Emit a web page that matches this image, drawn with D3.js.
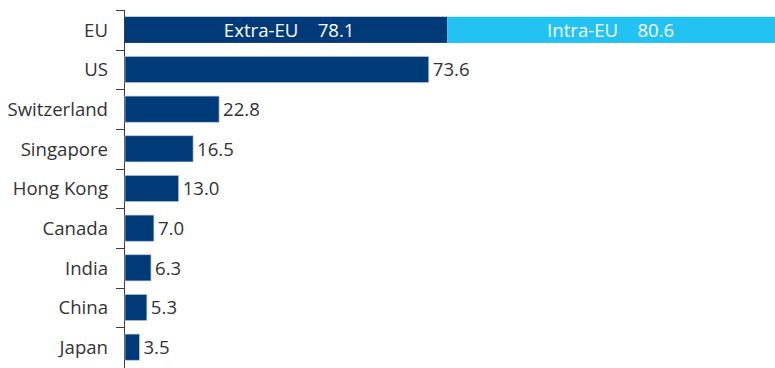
<!DOCTYPE html>
<html>
<head>
<meta charset="utf-8">
<script src="https://cdn.jsdelivr.net/npm/d3@7/dist/d3.min.js"></script>
<style>
  html, body { margin: 0; padding: 0; background: #fff; }
  svg { display: block; }
  text { font-family: "Open Sans", "Noto Sans", sans-serif; font-weight: 400; }
</style>
</head>
<body>
<svg id="chart" width="775" height="368"></svg>
<script>
// Categories, top to bottom
const categories = ["EU", "US", "Switzerland", "Singapore", "Hong Kong", "Canada", "India", "China", "Japan"];
// Single-segment values (EU is split into two segments below)
const values = [null, 73.6, 22.8, 16.5, 13.0, 7.0, 6.3, 5.3, 3.5];
// EU split
const euSegments = ["Extra-EU", "Intra-EU"];
const euValues = [78.1, 80.6];

const W = 775, H = 368;
const axisX = 124;
const navy = "#003a79", cyan = "#22c3f2";
const fontSize = 18.6;

const svg = d3.select("#chart");

const x = d3.scaleLinear()
  .domain([0, d3.sum(euValues)])
  .range([axisX, axisX + 655]);

const y = d3.scaleBand()
  .domain(categories)
  .range([10, 367])
  .paddingInner(0.34)
  .paddingOuter(0.17);

const step = y.step();
const bandTop = i => 10 + i * step;

// Axis line with ticks at category boundaries
svg.append("line")
  .attr("x1", axisX + 0.5).attr("x2", axisX + 0.5)
  .attr("y1", 10).attr("y2", H)
  .attr("stroke", "#3c3c3c").attr("stroke-width", 1);

svg.selectAll("line.tick")
  .data(d3.range(categories.length))
  .join("line")
  .attr("class", "tick")
  .attr("x1", axisX - 8).attr("x2", axisX + 0.5)
  .attr("y1", i => Math.round(bandTop(i)) + 0.5)
  .attr("y2", i => Math.round(bandTop(i)) + 0.5)
  .attr("stroke", "#3c3c3c").attr("stroke-width", 1);

// Category labels
svg.selectAll("text.cat")
  .data(categories)
  .join("text")
  .attr("class", "cat")
  .attr("x", 108)
  .attr("y", d => y(d) + y.bandwidth() / 2)
  .attr("dy", "0.36em")
  .attr("text-anchor", "end")
  .attr("font-size", fontSize)
  .attr("fill", "#333")
  .text(d => d);

// EU stacked bar
let acc = 0;
const euStack = euValues.map((v, i) => {
  const s = { name: euSegments[i], v, x0: acc, x1: acc + v };
  acc += v;
  return s;
});

svg.selectAll("rect.eu")
  .data(euStack)
  .join("rect")
  .attr("class", "eu")
  .attr("x", d => x(d.x0) + 1)
  .attr("width", d => x(d.x1) - x(d.x0))
  .attr("y", y("EU"))
  .attr("height", y.bandwidth())
  .attr("fill", (d, i) => i === 0 ? navy : cyan);

svg.selectAll("text.eu")
  .data(euStack)
  .join("text")
  .attr("class", "eu")
  .attr("x", d => (Math.max(x(d.x0), axisX) + Math.min(x(d.x1), W)) / 2 + (d.x0 === 0 ? 4 : 0))
  .attr("y", y("EU") + y.bandwidth() / 2)
  .attr("dy", "0.36em")
  .attr("text-anchor", "middle")
  .attr("font-size", fontSize)
  .attr("font-weight", 350)
  .attr("fill", "#fff")
  .style("white-space", "pre")
  .text(d => `${d.name}    ${d.v.toFixed(1)}`);

// Other bars
const rows = categories.map((c, i) => ({ c, v: values[i] })).filter(d => d.v !== null);

svg.selectAll("rect.bar")
  .data(rows)
  .join("rect")
  .attr("class", "bar")
  .attr("x", axisX + 1)
  .attr("width", d => x(d.v) - x(0))
  .attr("y", d => y(d.c))
  .attr("height", y.bandwidth())
  .attr("fill", navy)
  .attr("stroke", "#b9c8dc")
  .attr("stroke-width", 0.7);

svg.selectAll("text.val")
  .data(rows)
  .join("text")
  .attr("class", "val")
  .attr("x", d => x(d.v) + 5)
  .attr("y", d => y(d.c) + y.bandwidth() / 2)
  .attr("dy", "0.36em")
  .attr("font-size", fontSize)
  .attr("fill", "#333")
  .text(d => d.v.toFixed(1));
</script>
</body>
</html>
